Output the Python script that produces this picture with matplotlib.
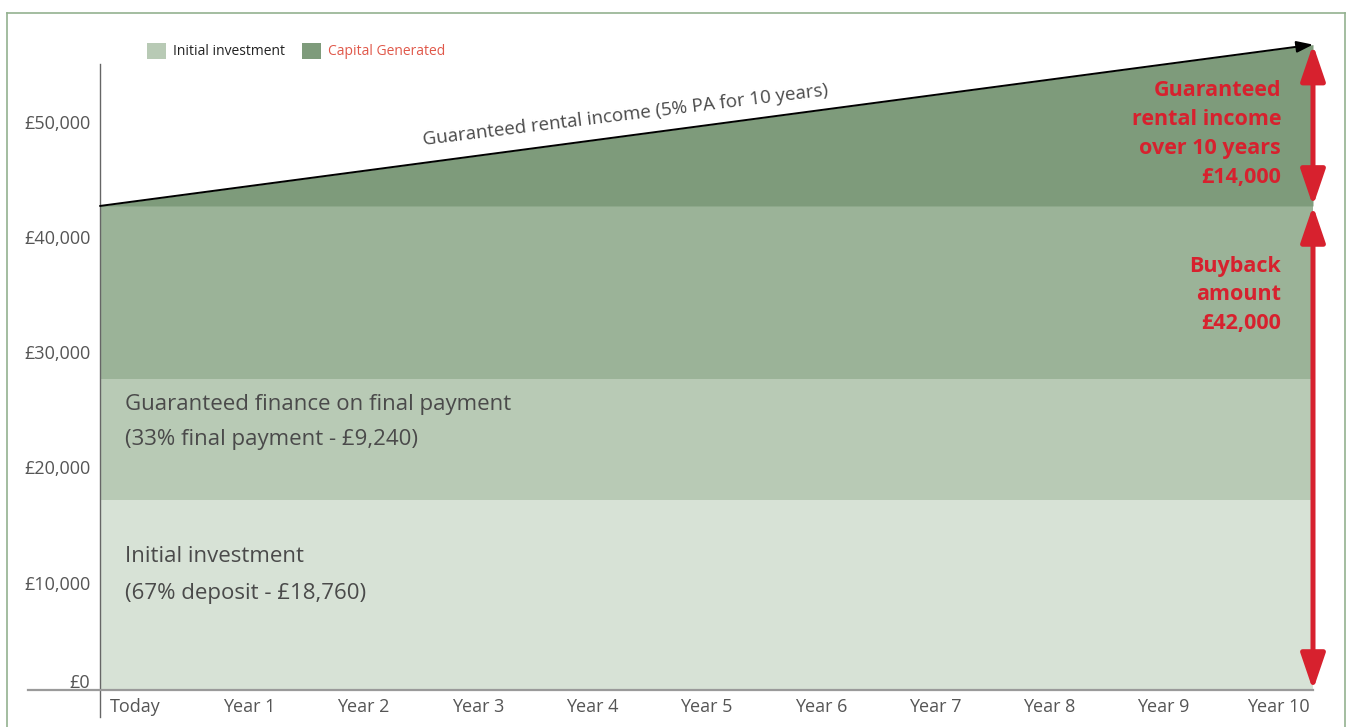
import matplotlib
matplotlib.use("Agg")
import matplotlib.pyplot as plt
import matplotlib.transforms as mtransforms
from matplotlib.patches import Patch
from matplotlib.lines import Line2D
import numpy as np

# ---- data ----
x_labels = ["Today", "Year 1", "Year 2", "Year 3", "Year 4", "Year 5",
            "Year 6", "Year 7", "Year 8", "Year 9", "Year 10"]
span = [0, 10]                      # years
initial_top = 16500                 # initial investment band (as drawn)
finance_top = 27000                 # guaranteed finance band (as drawn)
buyback = 42000                     # buyback amount
rental_end = 56000                  # buyback + rental income at Year 10
y_ticks = [0, 10000, 20000, 30000, 40000, 50000]
y_tick_labels = ["£0", "£10,000", "£20,000", "£30,000", "£40,000", "£50,000"]
legend_labels = ["Initial investment", "Capital Generated"]

# ---- style ----
plt.rcParams['font.family'] = ['Open Sans', 'DejaVu Sans']
C_LIGHTEST = "#d7e2d6"
C_LIGHT = "#b8cab5"
C_MID = "#9bb398"
C_DARK = "#7e9b7b"
RED = "#d7212e"
TXT = "#4a4a4a"

W, H = 1346, 727
fig = plt.figure(figsize=(W / 100, H / 100), dpi=100)
ax_left, ax_right, ax_bottom, ax_top = 100, 1313, 690, 40
ax = fig.add_axes([ax_left / W, (H - ax_bottom) / H,
                   (ax_right - ax_left) / W, (ax_bottom - ax_top) / H])
px_per_10k = 115.25
ax.set_xlim(span[0], span[1])
ax.set_ylim(0, (ax_bottom - ax_top) / px_per_10k * 10000)

xs = np.array(span, dtype=float)
ax.fill_between(xs, 0, initial_top, color=C_LIGHTEST, lw=0)
ax.fill_between(xs, initial_top, finance_top, color=C_LIGHT, lw=0)
ax.fill_between(xs, finance_top, buyback, color=C_MID, lw=0)
ax.fill_between(xs, buyback, [buyback, rental_end], color=C_DARK, lw=0)

# black arrow line along rental income
ax.annotate("", xy=(span[1], rental_end), xytext=(span[0], buyback),
            arrowprops=dict(arrowstyle="-|>,head_length=1.0,head_width=0.35",
                            color="black", lw=1.4, shrinkA=0, shrinkB=0),
            annotation_clip=False)

# red double arrows
arrow_style = "<|-|>,head_length=2.2,head_width=0.75"
ax.annotate("", xy=(span[1], rental_end), xytext=(span[1], buyback),
            arrowprops=dict(arrowstyle=arrow_style, color=RED, lw=3.6,
                            shrinkA=0, shrinkB=0), annotation_clip=False)
ax.annotate("", xy=(span[1], buyback), xytext=(span[1], 0),
            arrowprops=dict(arrowstyle=arrow_style, color=RED, lw=3.6,
                            shrinkA=0, shrinkB=0), annotation_clip=False)

# spines
for s in ax.spines.values():
    s.set_visible(False)
ax.plot([0, 0], [-0.0415, 0.963], transform=ax.transAxes, color="#666666",
        lw=1.0, clip_on=False)
ax.plot([-0.0594, 1.0], [0, 0], transform=ax.transAxes, color="#9a9a9a",
        lw=1.6, clip_on=False)

# ticks
inset = 35 / ((ax_right - ax_left) / 10)
ax.set_xticks(np.linspace(span[0] + inset, span[1] - inset, len(x_labels)))
ax.set_xticklabels(x_labels, fontsize=13, color="#555555")
ax.set_yticks(y_ticks)
ax.set_yticklabels(y_tick_labels, fontsize=13, color="#555555")
ax.tick_params(axis="both", length=0)
ax.tick_params(axis="y", pad=7)
ax.tick_params(axis="x", pad=6)
for i, lab in enumerate(ax.get_yticklabels()):
    dy = 9 / 100 if i == 0 else -8 / 100
    lab.set_transform(lab.get_transform() +
                      mtransforms.ScaledTranslation(0, dy, fig.dpi_scale_trans))

def yv(pix):
    return (ax_bottom - pix) / px_per_10k * 10000

# band texts
band_fs = 16
ax.text(0.21, yv(404), "Guaranteed finance on final payment", fontsize=band_fs,
        color=TXT, va="center", ha="left")
ax.text(0.21, yv(440), "(33% final payment - £9,240)", fontsize=band_fs,
        color=TXT, va="center", ha="left")
ax.text(0.21, yv(557), "Initial investment", fontsize=band_fs,
        color=TXT, va="center", ha="left")
ax.text(0.21, yv(593), "(67% deposit - £18,760)", fontsize=band_fs,
        color=TXT, va="center", ha="left")

# rental income label along the line
ax.text(4.33, yv(115), "Guaranteed rental income (5% PA for 10 years)",
        fontsize=13.5, color=TXT, rotation=7.0, ha="center", va="center",
        rotation_mode="anchor")

# red annotations
x_red = (1281 - ax_left) / ((ax_right - ax_left) / 10)
ax.text(x_red, yv(134), "Guaranteed\nrental income\nover 10 years\n£14,000",
        fontsize=15.5, fontweight="bold", color=RED, ha="right", va="center",
        linespacing=1.48)
ax.text(x_red, yv(295), "Buyback\namount\n£42,000",
        fontsize=15.5, fontweight="bold", color=RED, ha="right", va="center",
        linespacing=1.48)

# legend
handles = [Patch(facecolor=C_LIGHT, edgecolor="none"),
           Patch(facecolor=C_DARK, edgecolor="none")]
leg = fig.legend(handles, legend_labels, loc="center left",
                 bbox_to_anchor=(134 / W, 1 - 51 / H), ncol=2, frameon=False,
                 fontsize=10, handlelength=1.4, handleheight=1.4,
                 handletextpad=0.5, columnspacing=1.2)
leg.get_texts()[0].set_color("#222222")
leg.get_texts()[1].set_color("#e0584a")

# figure border
bc = "#93b190"
for (x0, y0, x1, y1) in [(7, 13, 1345, 13), (7, 13, 7, 730), (1345, 13, 1345, 730)]:
    fig.add_artist(Line2D([x0 / W, x1 / W], [1 - y0 / H, 1 - y1 / H],
                          color=bc, lw=1.2, transform=fig.transFigure))

fig.savefig("out.png", dpi=100)
